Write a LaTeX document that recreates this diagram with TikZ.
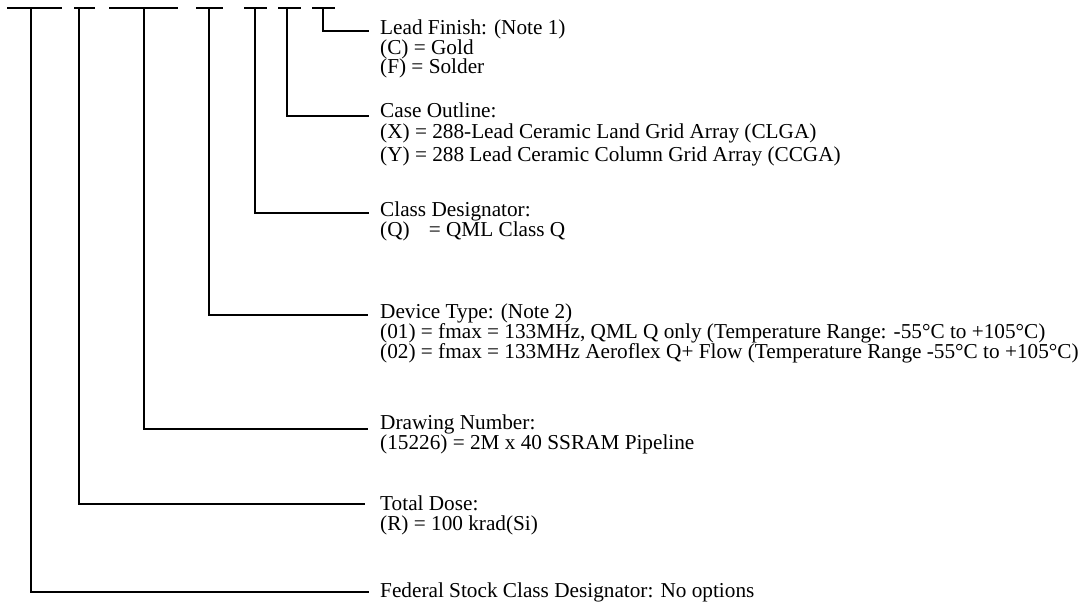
\documentclass[tikz,border=0pt]{standalone}
\usepackage{fontspec}
\setmainfont{Liberation Serif}
\begin{document}
\begin{tikzpicture}[x=1pt,y=-1pt,
  bar/.style={line width=2.6pt},
  conn/.style={line width=2.6pt, line join=miter},
  txt/.style={anchor=base west, inner sep=0pt, font=\fontsize{21.25}{21}\selectfont}]
\useasboundingbox (0,0) rectangle (1084,607);
% top bars
\coordinate (b1l) at (7,8);   \coordinate (b1r) at (62,8);
\coordinate (b2l) at (74,8);  \coordinate (b2r) at (95,8);
\coordinate (b3l) at (109,8); \coordinate (b3r) at (178,8);
\coordinate (b4l) at (196,8); \coordinate (b4r) at (223,8);
\coordinate (b5l) at (244,8); \coordinate (b5r) at (267,8);
\coordinate (b6l) at (278,8); \coordinate (b6r) at (301,8);
\coordinate (b7l) at (312,8); \coordinate (b7r) at (335,8);
\foreach \i in {1,...,7} {\draw[bar] (b\i l) -- (b\i r);}
% vertical drop points
\coordinate (v1) at (31,8);
\coordinate (v2) at (79,8);
\coordinate (v3) at (144,8);
\coordinate (v4) at (209,8);
\coordinate (v5) at (255,8);
\coordinate (v6) at (287,8);
\coordinate (v7) at (323,8);
% elbow ends
\coordinate (e7) at (369,31);
\coordinate (e6) at (369,116);
\coordinate (e5) at (369,213);
\coordinate (e4) at (368,315);
\coordinate (e3) at (368,429);
\coordinate (e2) at (365,504);
\coordinate (e1) at (369,592);
% texts
\node[txt] (lf1) at (380,35) {Lead Finish: (Note 1)};
\node[txt] (lf2) at (380,54.5) {(C) = Gold};
\node[txt] (lf3) at (380,74) {(F) = Solder};
\node[txt] (co1) at (380,118) {Case Outline:};
\node[txt] (co2) at (380,139) {(X) = 288-Lead Ceramic Land Grid Array (CLGA)};
\node[txt] (co3) at (380,161) {(Y) = 288 Lead Ceramic Column Grid Array (CCGA)};
\node[txt] (cd1) at (380,216) {Class Designator:};
\node[txt] (cd2) at (380,236) {(Q)\hspace{0.9em}= QML Class Q};
\node[txt] (dt1) at (380,318) {Device Type: (Note 2)};
\node[txt] (dt2) at (380,338) {(01) = fmax = 133MHz, QML Q only (Temperature Range: -55°C to +105°C)};
\node[txt] (dt3) at (380,358.5) {(02) = fmax = 133MHz Aeroflex Q+ Flow (Temperature Range -55°C to +105°C)};
\node[txt] (dn1) at (380,429.5) {Drawing Number:};
\node[txt] (dn2) at (380,449.5) {(15226) = 2M x 40 SSRAM Pipeline};
\node[txt] (td1) at (380,510.5) {Total Dose:};
\node[txt] (td2) at (380,530.5) {(R) = 100 krad(Si)};
\node[txt] (fs1) at (380,597) {Federal Stock Class Designator: No options};
% connectors
\draw[conn] (v7) |- (e7);
\draw[conn] (v6) |- (e6);
\draw[conn] (v5) |- (e5);
\draw[conn] (v4) |- (e4);
\draw[conn] (v3) |- (e3);
\draw[conn] (v2) |- (e2);
\draw[conn] (v1) |- (e1);
\end{tikzpicture}
\end{document}
